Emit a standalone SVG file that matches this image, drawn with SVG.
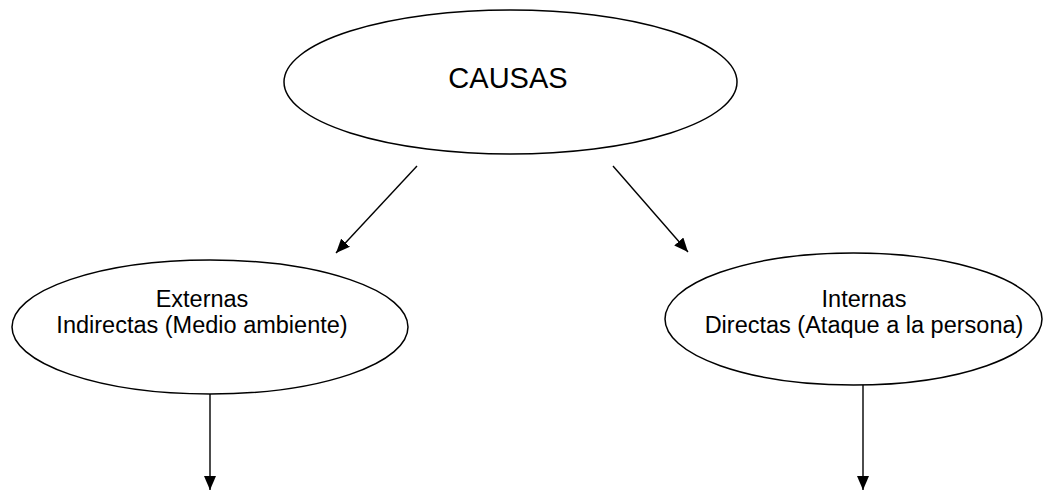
<svg xmlns="http://www.w3.org/2000/svg" width="1043" height="491" viewBox="0 0 1043 491">
<style>
.node{fill:#fff;stroke:#000;stroke-width:1.5}
.t{font-family:"Liberation Sans",Arial,sans-serif;fill:#000;text-anchor:middle}
.e{stroke:#000;stroke-width:1.4;fill:none;marker-end:url(#ah)}
</style>
<defs>
<marker id="ah" markerWidth="14" markerHeight="12" refX="14" refY="6" orient="auto" markerUnits="userSpaceOnUse">
<path d="M0,0 L14,6 L0,12 Z" fill="#000"/>
</marker>
</defs>
<rect width="1043" height="491" fill="#fff"/>
<g id="causas">
<ellipse class="node" cx="510.5" cy="82" rx="226.5" ry="72"/>
<text class="t" x="508" y="88" font-size="29">CAUSAS</text>
</g>
<g id="externas">
<ellipse class="node" cx="210" cy="327" rx="198" ry="67"/>
<text class="t" x="202" y="307" font-size="23.5">Externas</text>
<text class="t" x="202" y="333" font-size="23.5">Indirectas (Medio ambiente)</text>
</g>
<g id="internas">
<ellipse class="node" cx="853.5" cy="319" rx="188.5" ry="66"/>
<text class="t" x="864" y="307" font-size="23.5">Internas</text>
<text class="t" x="864" y="333" font-size="23.5">Directas (Ataque a la persona)</text>
</g>
<g id="connectors">
<line class="e" x1="417" y1="166" x2="336" y2="253"/>
<line class="e" x1="613" y1="166" x2="688" y2="252"/>
<line class="e" x1="210" y1="394" x2="210" y2="490"/>
<line class="e" x1="863" y1="385" x2="863" y2="490"/>
</g>
</svg>
